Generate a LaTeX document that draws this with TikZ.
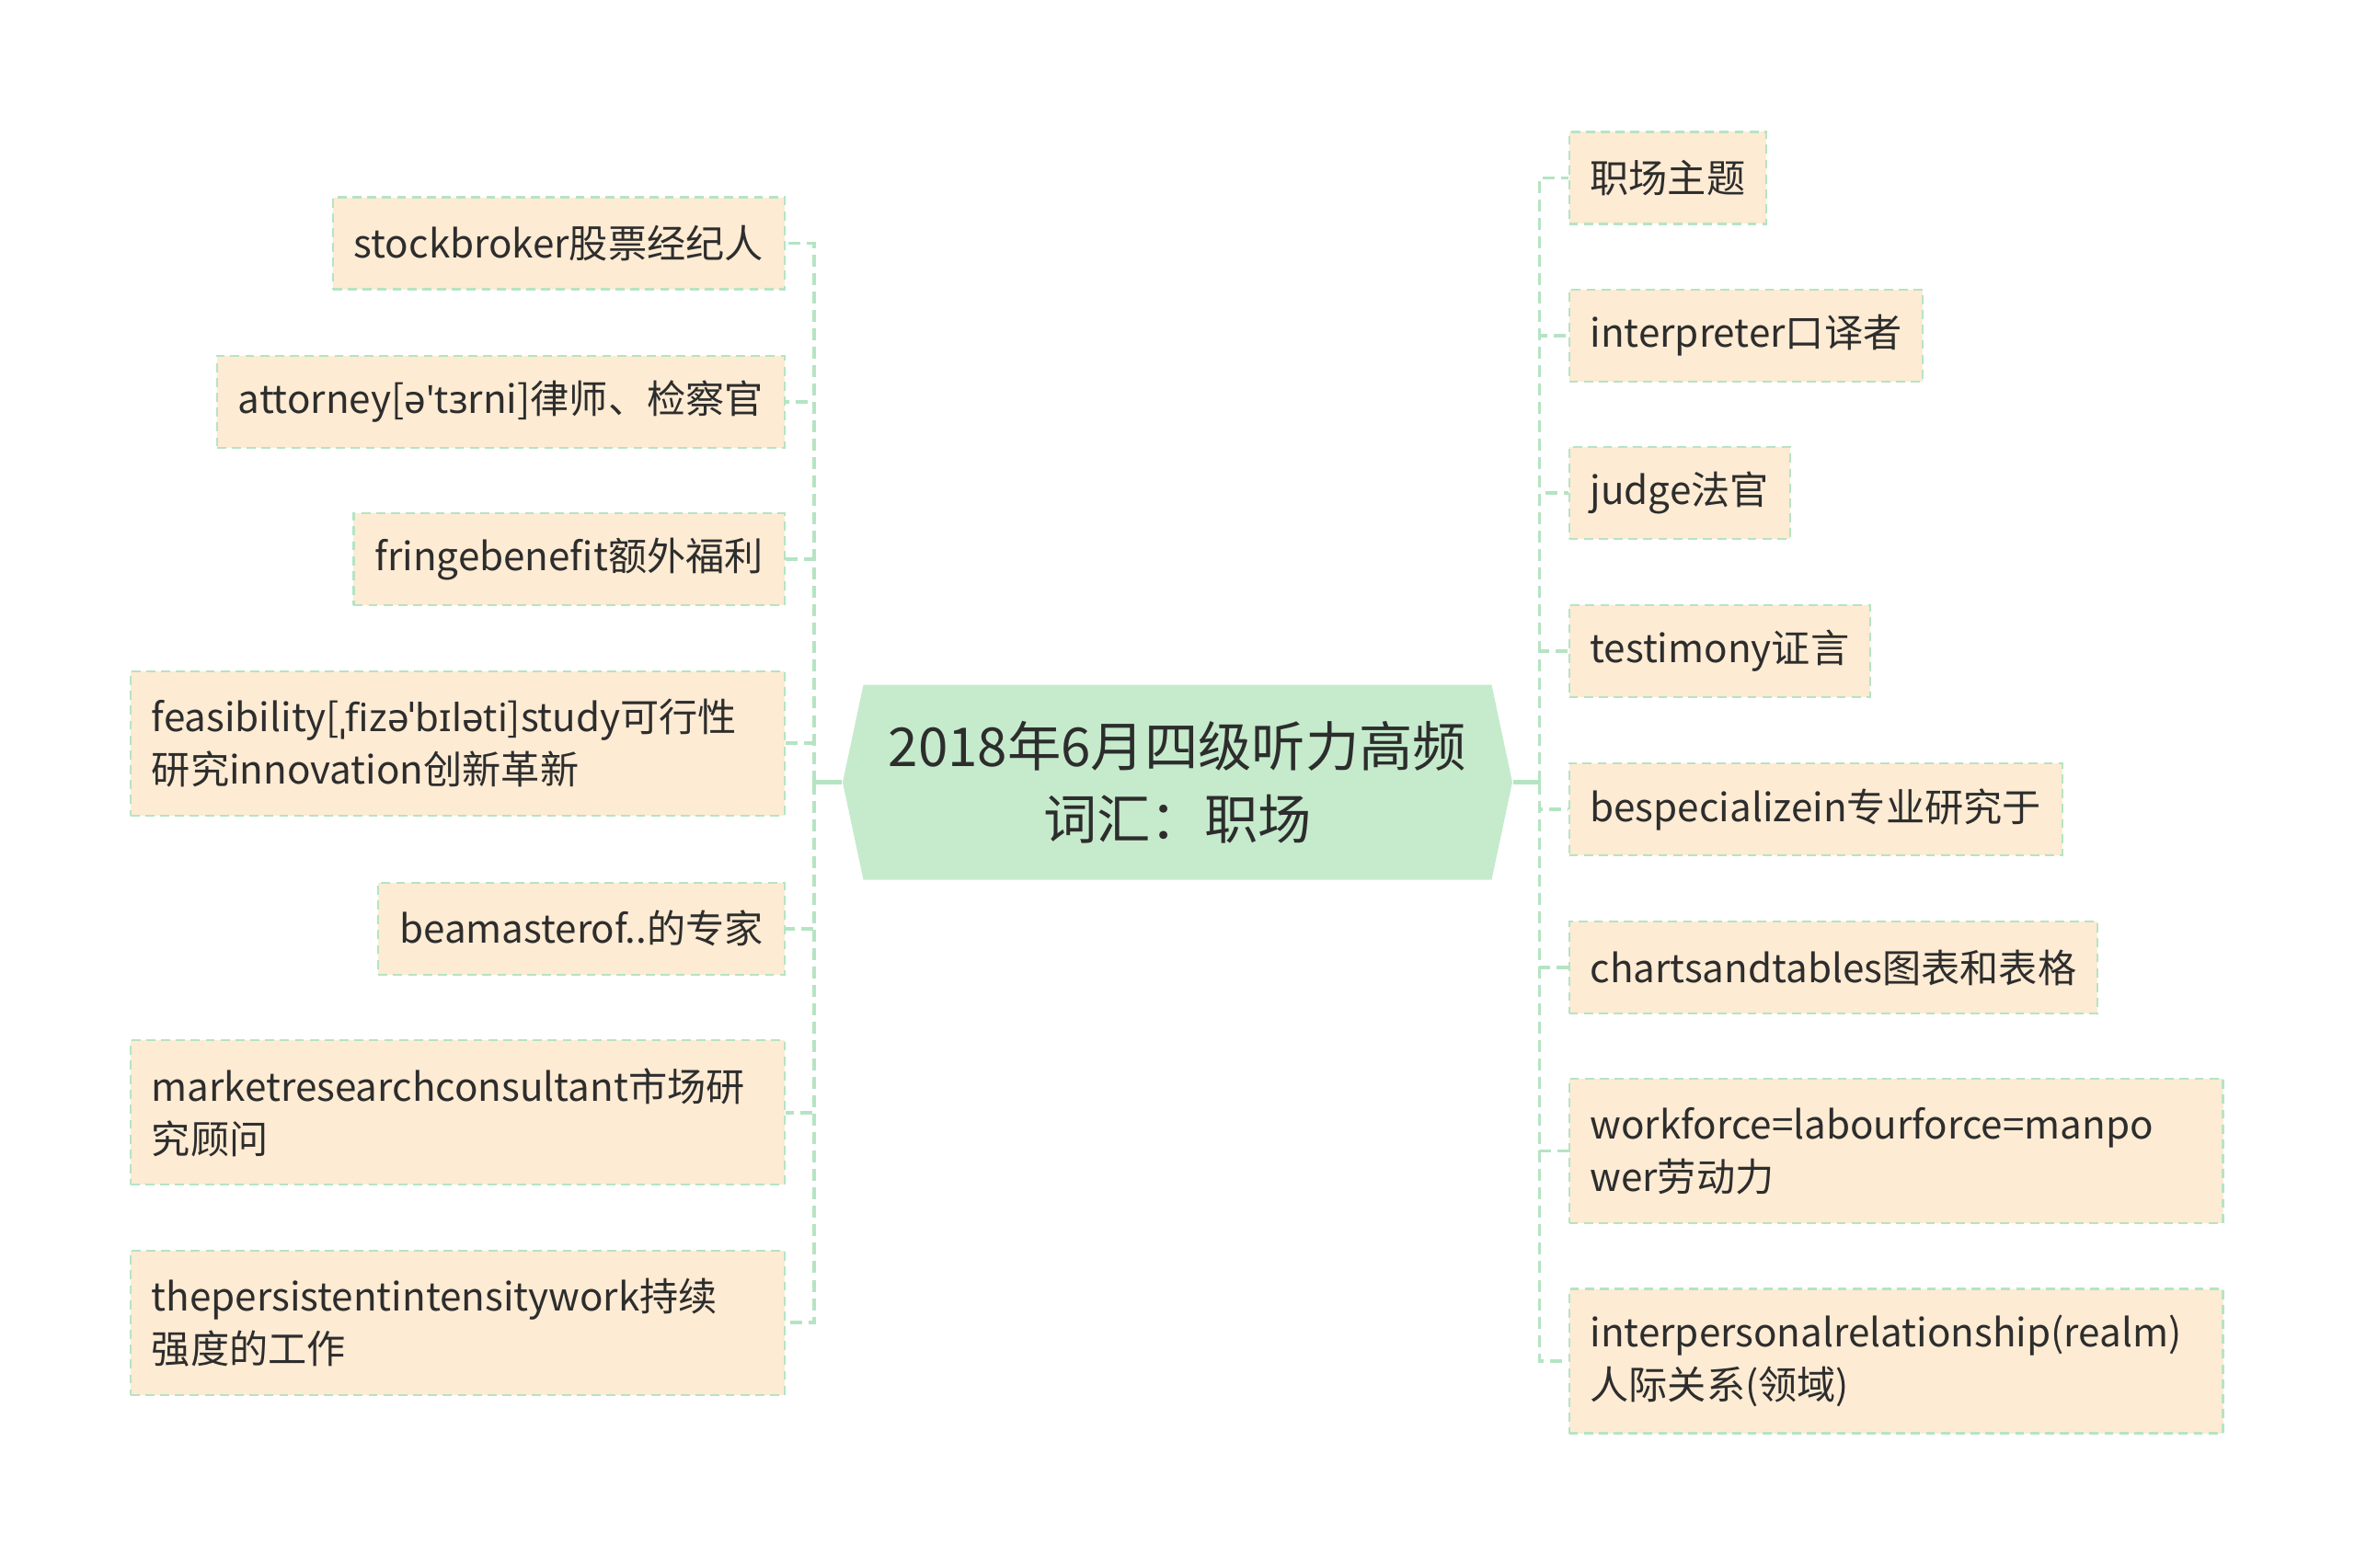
\documentclass[tikz,border=0pt]{standalone}
\usepackage{fontspec}
\setmainfont{Noto Sans CJK SC}
\newfontfamily\ipa{Noto Sans}
\usepackage{tikz}
\usetikzlibrary{shapes.symbols}
\definecolor{boxfill}{RGB}{253,235,211}
\definecolor{linegreen}{RGB}{181,228,195}
\definecolor{rootfill}{RGB}{197,235,204}
\definecolor{txt}{RGB}{45,45,45}
\tikzstyle{root} = [signal, signal to=west and east, signal pointer angle=156, fill=rootfill, minimum width=7.28cm, minimum height=2.12cm, align=center, text=txt, font=\fontsize{16.6}{22.3}\selectfont]
\tikzstyle{leaf} = [rectangle, draw=linegreen, fill=boxfill, line width=0.6pt, dash pattern=on 2.8pt off 1.8pt, minimum height=1.0cm, inner xsep=0.23cm, align=left, text=txt, font=\fontsize{12}{16.3}\selectfont]
\tikzstyle{wide} = [text width=6.65cm, minimum height=1.57cm]
\tikzstyle{spine} = [draw=linegreen, line width=1.1pt, dash pattern=on 3.7pt off 2pt]
\tikzstyle{trunk} = [draw=linegreen, line width=1.4pt]

\begin{document}
\begin{tikzpicture}[x=0.016327cm, y=-0.016327cm]
  \useasboundingbox (0,0) rectangle (1568,1044);

  \node (root) [root] at (784,521) {2018年6月四级听力高频\\词汇：职场};
  \coordinate (lj) at (542,521);
  \coordinate (rj) at (1025,521);

  \node (l1) [leaf, anchor=east] at (523,162) {stockbroker股票经纪人};
  \node (l2) [leaf, anchor=east] at (523,267.5) {attorney[{\ipa ə'tɜ}rni]律师、检察官};
  \node (l3) [leaf, anchor=east] at (523,372.5) {fringebenefit额外福利};
  \node (l4) [leaf, wide, anchor=east] at (523,495) {feasibility[{\ipa ˌfizəˈbɪləti}]study可行性\\研究innovation创新革新};
  \node (l5) [leaf, anchor=east] at (523,618.5) {beamasterof..的专家};
  \node (l6) [leaf, wide, anchor=east] at (523,741) {marketresearchconsultant市场研\\究顾问};
  \node (l7) [leaf, wide, anchor=east] at (523,881) {thepersistentintensitywork持续\\强度的工作};

  \node (r1) [leaf, anchor=west] at (1044,118.5) {职场主题};
  \node (r2) [leaf, anchor=west] at (1044,223.5) {interpreter口译者};
  \node (r3) [leaf, anchor=west] at (1044,328.5) {judge法官};
  \node (r4) [leaf, anchor=west] at (1044,433.5) {testimony证言};
  \node (r5) [leaf, anchor=west] at (1044,539) {bespecializein专业研究于};
  \node (r6) [leaf, anchor=west] at (1044,644.5) {chartsandtables图表和表格};
  \node (r7) [leaf, wide, anchor=west] at (1044,766.5) {workforce=labourforce=manpo\\wer劳动力};
  \node (r8) [leaf, wide, anchor=west] at (1044,906.5) {interpersonalrelationship(realm)\\人际关系(领域)};

  \draw [trunk] (root.west) -- (lj);
  \draw [trunk] (root.east) -- (rj);
  \foreach \n in {l1,l2,l3,l4,l5,l6,l7}
    \draw [spine] (lj) |- (\n.east);
  \foreach \n in {r1,r2,r3,r4,r5,r6,r7,r8}
    \draw [spine] (rj) |- (\n.west);
\end{tikzpicture}
\end{document}
